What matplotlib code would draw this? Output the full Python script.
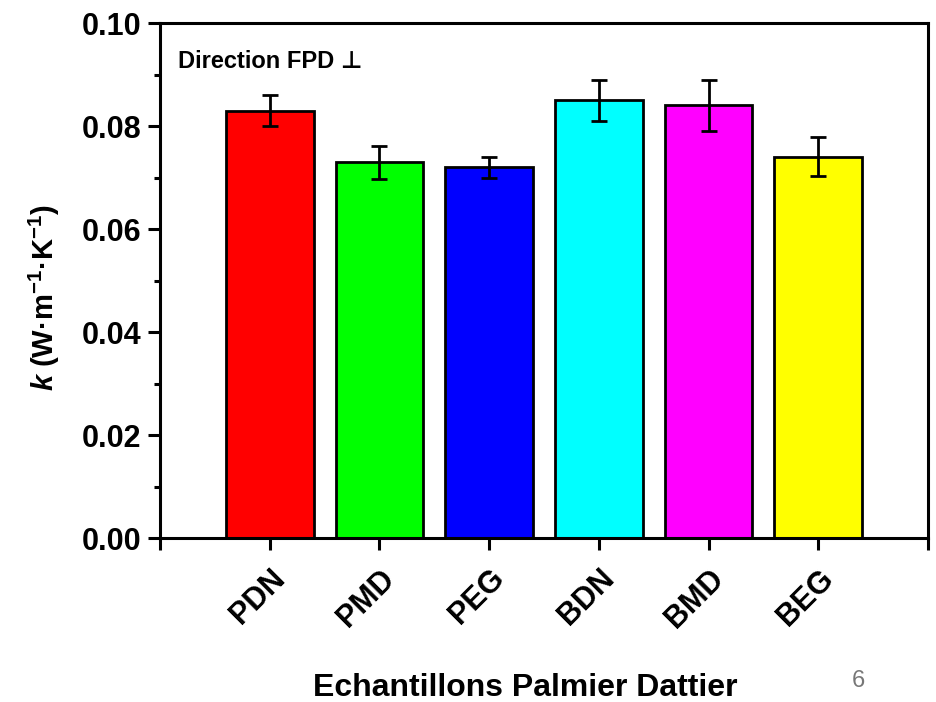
import matplotlib.pyplot as plt
from matplotlib.ticker import MultipleLocator, FixedLocator

plt.rcParams['font.family'] = ['Liberation Sans', 'DejaVu Sans']
plt.rcParams['font.weight'] = 'bold'
plt.rcParams['mathtext.fontset'] = 'custom'
plt.rcParams['mathtext.rm'] = 'Liberation Sans:bold'
plt.rcParams['mathtext.it'] = 'Liberation Sans:bold:italic'
plt.rcParams['mathtext.bf'] = 'Liberation Sans:bold'

samples = ['PDN', 'PMD', 'PEG', 'BDN', 'BMD', 'BEG']
k_values = [0.083, 0.073, 0.072, 0.085, 0.084, 0.074]
k_errors = [0.003, 0.0032, 0.002, 0.004, 0.005, 0.0038]
colors = ['#ff0000', '#00ff00', '#0000ff', '#00ffff', '#ff00ff', '#ffff00']

fig = plt.figure(figsize=(9.37, 7.02), dpi=100)
ax = fig.add_axes([0.1708, 0.2336, 0.8196, 0.7336])

pos = list(range(len(samples)))
ax.bar(pos, k_values, width=0.8, color=colors, edgecolor='black', linewidth=2.0,
       yerr=k_errors, capsize=5.5,
       error_kw=dict(ecolor='black', elinewidth=2.0, capthick=2.0))

ax.set_xlim(-1, len(samples))
ax.set_ylim(0, 0.10)

ax.yaxis.set_major_locator(MultipleLocator(0.02))
ax.yaxis.set_minor_locator(MultipleLocator(0.01))
ax.set_yticklabels([f'{v:.2f}' for v in ax.get_yticks()])

ax.xaxis.set_major_locator(FixedLocator([-1] + pos + [len(samples)]))
ax.set_xticklabels([''] + samples + [''], rotation=45, ha='right',
                   rotation_mode='anchor', fontsize=22, fontweight='bold')

for s in ax.spines.values():
    s.set_linewidth(2.2)
ax.tick_params(axis='both', which='major', direction='out', length=8.5, width=2.2,
               labelsize=22, pad=5)
ax.tick_params(axis='y', which='minor', direction='out', length=4.5, width=2.2)
ax.tick_params(axis='x', which='major', pad=10)

ax.set_xlabel('Echantillons Palmier Dattier', fontsize=23, fontweight='bold')
ax.xaxis.set_label_coords(0.475, -0.262)
ax.set_ylabel(r'$\mathit{k}$ (W·m$^{-1}$·K$^{-1}$)', fontsize=21, fontweight='bold')
ax.yaxis.set_label_coords(-0.128, 0.466)

ax.text(0.024, 0.925, 'Direction FPD ⊥', transform=ax.transAxes, fontsize=17,
        fontweight='bold', va='center')

fig.text(0.916, 0.022, '6', fontsize=17, color='#777777', fontweight='normal',
         ha='center', va='baseline')

fig.savefig('out.png', dpi=100)
